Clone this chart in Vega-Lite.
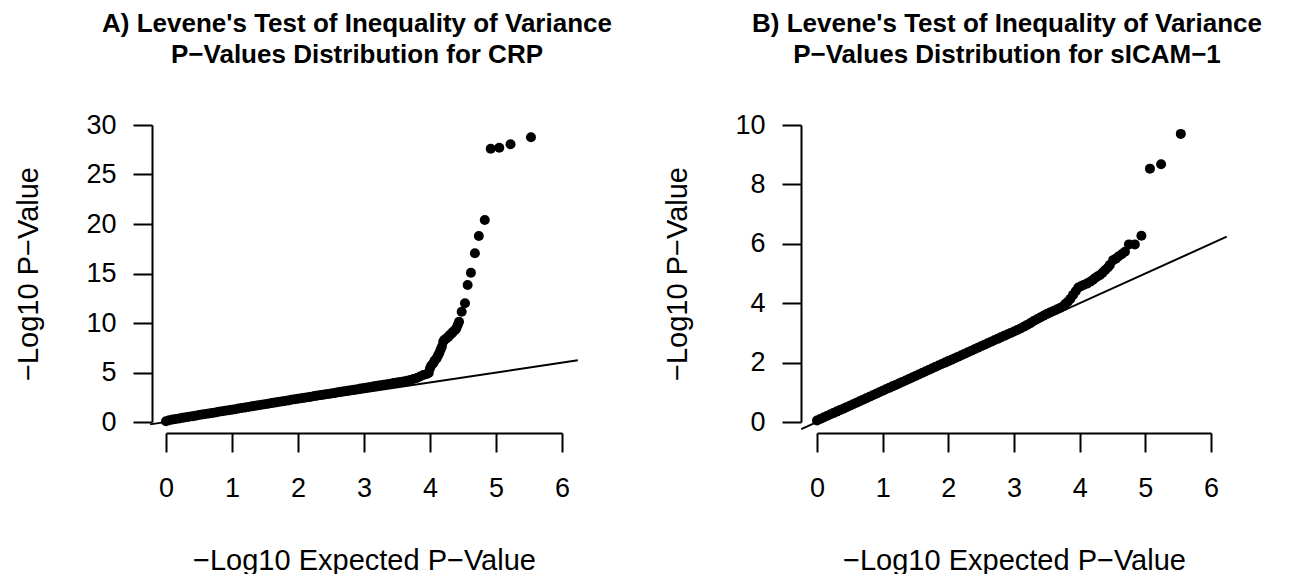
{
  "$schema": "https://vega.github.io/schema/vega-lite/v6.json",
  "background": "white",
  "padding": {"left": 14, "top": 11, "right": 5, "bottom": 2},
  "bounds": "flush",
  "spacing": 255,
  "config": {
    "view": {"stroke": null},
    "font": "Liberation Sans",
    "axis": {
      "grid": false, "domainColor": "black", "domainWidth": 2, "tickColor": "black", "tickWidth": 2, "tickSize": 19,
      "labelFont": "Liberation Sans", "labelFontSize": 27, "labelColor": "black",
      "titleFont": "Liberation Sans", "titleFontSize": 29, "titleFontWeight": "normal", "titleColor": "black",
      "labelOverlap": false, "labelFlush": false
    },
    "axisX": {"labelPadding": 23, "titlePadding": 45, "offset": 11},
    "axisY": {"labelPadding": 17, "titlePadding": 42},
    "title": {"fontSize": 26, "fontWeight": "bold", "font": "Liberation Sans", "color": "black", "lineHeight": 31, "anchor": "middle", "frame": "group", "offset": 43, "dx": -7}
  },
  "datasets": {
    "crp": [
      {"expected": 0.0, "observed": 0.08}, {"expected": 0.05, "observed": 0.18}, {"expected": 0.1, "observed": 0.25}, {"expected": 0.15, "observed": 0.31},
      {"expected": 0.2, "observed": 0.36}, {"expected": 0.25, "observed": 0.42}, {"expected": 0.3, "observed": 0.48}, {"expected": 0.35, "observed": 0.53},
      {"expected": 0.4, "observed": 0.59}, {"expected": 0.45, "observed": 0.64}, {"expected": 0.5, "observed": 0.7}, {"expected": 0.55, "observed": 0.75},
      {"expected": 0.6, "observed": 0.81}, {"expected": 0.65, "observed": 0.86}, {"expected": 0.7, "observed": 0.92}, {"expected": 0.75, "observed": 0.97},
      {"expected": 0.8, "observed": 1.03}, {"expected": 0.85, "observed": 1.08}, {"expected": 0.9, "observed": 1.14}, {"expected": 0.95, "observed": 1.19},
      {"expected": 1.0, "observed": 1.25}, {"expected": 1.05, "observed": 1.3}, {"expected": 1.1, "observed": 1.36}, {"expected": 1.15, "observed": 1.41},
      {"expected": 1.2, "observed": 1.47}, {"expected": 1.25, "observed": 1.52}, {"expected": 1.3, "observed": 1.58}, {"expected": 1.35, "observed": 1.63},
      {"expected": 1.4, "observed": 1.69}, {"expected": 1.45, "observed": 1.74}, {"expected": 1.5, "observed": 1.8}, {"expected": 1.55, "observed": 1.85},
      {"expected": 1.6, "observed": 1.91}, {"expected": 1.65, "observed": 1.96}, {"expected": 1.7, "observed": 2.02}, {"expected": 1.75, "observed": 2.07},
      {"expected": 1.8, "observed": 2.13}, {"expected": 1.85, "observed": 2.18}, {"expected": 1.9, "observed": 2.24}, {"expected": 1.95, "observed": 2.29},
      {"expected": 2.0, "observed": 2.35}, {"expected": 2.05, "observed": 2.4}, {"expected": 2.1, "observed": 2.45}, {"expected": 2.15, "observed": 2.51},
      {"expected": 2.2, "observed": 2.56}, {"expected": 2.25, "observed": 2.62}, {"expected": 2.3, "observed": 2.67}, {"expected": 2.35, "observed": 2.73},
      {"expected": 2.4, "observed": 2.78}, {"expected": 2.45, "observed": 2.84}, {"expected": 2.5, "observed": 2.89}, {"expected": 2.55, "observed": 2.94},
      {"expected": 2.6, "observed": 3.0}, {"expected": 2.65, "observed": 3.05}, {"expected": 2.7, "observed": 3.1}, {"expected": 2.75, "observed": 3.16},
      {"expected": 2.8, "observed": 3.21}, {"expected": 2.85, "observed": 3.27}, {"expected": 2.9, "observed": 3.32}, {"expected": 2.95, "observed": 3.38},
      {"expected": 3.0, "observed": 3.43}, {"expected": 3.05, "observed": 3.49}, {"expected": 3.1, "observed": 3.54}, {"expected": 3.15, "observed": 3.6},
      {"expected": 3.2, "observed": 3.65}, {"expected": 3.25, "observed": 3.71}, {"expected": 3.3, "observed": 3.76}, {"expected": 3.35, "observed": 3.82},
      {"expected": 3.4, "observed": 3.87}, {"expected": 3.45, "observed": 3.93}, {"expected": 3.5, "observed": 3.98}, {"expected": 3.55, "observed": 4.04},
      {"expected": 3.6, "observed": 4.1}, {"expected": 3.65, "observed": 4.17}, {"expected": 3.7, "observed": 4.24}, {"expected": 3.75, "observed": 4.34},
      {"expected": 3.8, "observed": 4.45}, {"expected": 3.85, "observed": 4.6}, {"expected": 3.9, "observed": 4.75}, {"expected": 3.95, "observed": 4.85},
      {"expected": 3.98, "observed": 4.95}, {"expected": 4.0, "observed": 5.42}, {"expected": 4.02, "observed": 5.7}, {"expected": 4.05, "observed": 5.93},
      {"expected": 4.07, "observed": 6.2}, {"expected": 4.1, "observed": 6.43}, {"expected": 4.12, "observed": 6.7}, {"expected": 4.14, "observed": 6.94},
      {"expected": 4.16, "observed": 7.3}, {"expected": 4.18, "observed": 7.61}, {"expected": 4.2, "observed": 8.11}, {"expected": 4.22, "observed": 8.3},
      {"expected": 4.25, "observed": 8.45}, {"expected": 4.28, "observed": 8.62}, {"expected": 4.3, "observed": 8.79}, {"expected": 4.33, "observed": 8.95},
      {"expected": 4.35, "observed": 9.12}, {"expected": 4.38, "observed": 9.3}, {"expected": 4.4, "observed": 9.46}, {"expected": 4.42, "observed": 9.8},
      {"expected": 4.44, "observed": 10.13}, {"expected": 4.48, "observed": 11.14}, {"expected": 4.53, "observed": 11.99}, {"expected": 4.57, "observed": 13.84},
      {"expected": 4.62, "observed": 15.08}, {"expected": 4.68, "observed": 17.04}, {"expected": 4.74, "observed": 18.79}, {"expected": 4.83, "observed": 20.4},
      {"expected": 4.92, "observed": 27.61}, {"expected": 5.05, "observed": 27.71}, {"expected": 5.22, "observed": 28.05}, {"expected": 5.53, "observed": 28.76}
    ],
    "sicam": [
      {"expected": 0.0, "observed": 0.05}, {"expected": 0.05, "observed": 0.1}, {"expected": 0.1, "observed": 0.15}, {"expected": 0.15, "observed": 0.2},
      {"expected": 0.2, "observed": 0.25}, {"expected": 0.25, "observed": 0.3}, {"expected": 0.3, "observed": 0.35}, {"expected": 0.35, "observed": 0.4},
      {"expected": 0.4, "observed": 0.45}, {"expected": 0.45, "observed": 0.5}, {"expected": 0.5, "observed": 0.55}, {"expected": 0.55, "observed": 0.6},
      {"expected": 0.6, "observed": 0.65}, {"expected": 0.65, "observed": 0.7}, {"expected": 0.7, "observed": 0.75}, {"expected": 0.75, "observed": 0.8},
      {"expected": 0.8, "observed": 0.85}, {"expected": 0.85, "observed": 0.9}, {"expected": 0.9, "observed": 0.95}, {"expected": 0.95, "observed": 1.0},
      {"expected": 1.0, "observed": 1.05}, {"expected": 1.05, "observed": 1.1}, {"expected": 1.1, "observed": 1.15}, {"expected": 1.15, "observed": 1.2},
      {"expected": 1.2, "observed": 1.25}, {"expected": 1.25, "observed": 1.3}, {"expected": 1.3, "observed": 1.35}, {"expected": 1.35, "observed": 1.4},
      {"expected": 1.4, "observed": 1.45}, {"expected": 1.45, "observed": 1.5}, {"expected": 1.5, "observed": 1.55}, {"expected": 1.55, "observed": 1.6},
      {"expected": 1.6, "observed": 1.65}, {"expected": 1.65, "observed": 1.7}, {"expected": 1.7, "observed": 1.75}, {"expected": 1.75, "observed": 1.8},
      {"expected": 1.8, "observed": 1.85}, {"expected": 1.85, "observed": 1.9}, {"expected": 1.9, "observed": 1.95}, {"expected": 1.95, "observed": 2.0},
      {"expected": 2.0, "observed": 2.05}, {"expected": 2.05, "observed": 2.1}, {"expected": 2.1, "observed": 2.15}, {"expected": 2.15, "observed": 2.2},
      {"expected": 2.2, "observed": 2.25}, {"expected": 2.25, "observed": 2.3}, {"expected": 2.3, "observed": 2.35}, {"expected": 2.35, "observed": 2.4},
      {"expected": 2.4, "observed": 2.45}, {"expected": 2.45, "observed": 2.5}, {"expected": 2.5, "observed": 2.55}, {"expected": 2.55, "observed": 2.6},
      {"expected": 2.6, "observed": 2.65}, {"expected": 2.65, "observed": 2.7}, {"expected": 2.7, "observed": 2.75}, {"expected": 2.75, "observed": 2.8},
      {"expected": 2.8, "observed": 2.85}, {"expected": 2.85, "observed": 2.9}, {"expected": 2.9, "observed": 2.95}, {"expected": 2.95, "observed": 3.0},
      {"expected": 3.0, "observed": 3.05}, {"expected": 3.05, "observed": 3.1}, {"expected": 3.1, "observed": 3.15}, {"expected": 3.15, "observed": 3.21},
      {"expected": 3.2, "observed": 3.27}, {"expected": 3.25, "observed": 3.33}, {"expected": 3.3, "observed": 3.4}, {"expected": 3.35, "observed": 3.46},
      {"expected": 3.4, "observed": 3.52}, {"expected": 3.45, "observed": 3.58}, {"expected": 3.5, "observed": 3.64}, {"expected": 3.55, "observed": 3.69},
      {"expected": 3.6, "observed": 3.74}, {"expected": 3.65, "observed": 3.79}, {"expected": 3.7, "observed": 3.84}, {"expected": 3.75, "observed": 3.9},
      {"expected": 3.78, "observed": 3.97}, {"expected": 3.82, "observed": 4.05}, {"expected": 3.86, "observed": 4.15}, {"expected": 3.9, "observed": 4.28},
      {"expected": 3.94, "observed": 4.4}, {"expected": 3.98, "observed": 4.53}, {"expected": 4.02, "observed": 4.57}, {"expected": 4.06, "observed": 4.61},
      {"expected": 4.11, "observed": 4.66}, {"expected": 4.16, "observed": 4.72}, {"expected": 4.2, "observed": 4.78}, {"expected": 4.23, "observed": 4.84},
      {"expected": 4.27, "observed": 4.9}, {"expected": 4.31, "observed": 4.95}, {"expected": 4.35, "observed": 5.03}, {"expected": 4.39, "observed": 5.12},
      {"expected": 4.43, "observed": 5.2}, {"expected": 4.46, "observed": 5.29}, {"expected": 4.51, "observed": 5.45}, {"expected": 4.55, "observed": 5.5},
      {"expected": 4.59, "observed": 5.57}, {"expected": 4.64, "observed": 5.65}, {"expected": 4.69, "observed": 5.73}, {"expected": 4.75, "observed": 5.98},
      {"expected": 4.84, "observed": 5.98}, {"expected": 4.94, "observed": 6.27}, {"expected": 5.07, "observed": 8.53}, {"expected": 5.24, "observed": 8.68},
      {"expected": 5.54, "observed": 9.7}
    ],
    "abline": [
      {"expected": -0.24, "observed": -0.24}, {"expected": 6.24, "observed": 6.24}
    ]
  },
  "hconcat": [
    {
      "width": 396, "height": 297,
      "title": {"text": ["A) Levene's Test of Inequality of Variance", "P−Values Distribution for CRP"]},
      "encoding": {
        "x": {"field": "expected", "type": "quantitative", "scale": {"domain": [0, 6], "nice": false, "zero": false},
              "axis": {"title": "−Log10 Expected P−Value", "values": [0, 1, 2, 3, 4, 5, 6], "format": "d"}},
        "y": {"field": "observed", "type": "quantitative", "scale": {"domain": [0, 30], "nice": false, "zero": false},
              "axis": {"title": "−Log10 P−Value", "values": [0, 5, 10, 15, 20, 25, 30], "format": "d", "offset": 14}}
      },
      "layer": [
        {"data": {"name": "crp"}, "mark": {"type": "circle", "size": 100, "color": "black", "opacity": 1}},
        {"data": {"name": "abline"}, "mark": {"type": "line", "color": "black", "strokeWidth": 2, "clip": false}}
      ]
    },
    {
      "width": 394, "height": 297,
      "title": {"text": ["B) Levene's Test of Inequality of Variance", "P−Values Distribution for sICAM−1"]},
      "encoding": {
        "x": {"field": "expected", "type": "quantitative", "scale": {"domain": [0, 6], "nice": false, "zero": false},
              "axis": {"title": "−Log10 Expected P−Value", "values": [0, 1, 2, 3, 4, 5, 6], "format": "d"}},
        "y": {"field": "observed", "type": "quantitative", "scale": {"domain": [0, 10], "nice": false, "zero": false},
              "axis": {"title": "−Log10 P−Value", "values": [0, 2, 4, 6, 8, 10], "format": "d", "offset": 16}}
      },
      "layer": [
        {"data": {"name": "sicam"}, "mark": {"type": "circle", "size": 100, "color": "black", "opacity": 1}},
        {"data": {"name": "abline"}, "mark": {"type": "line", "color": "black", "strokeWidth": 2, "clip": false}}
      ]
    }
  ]
}
